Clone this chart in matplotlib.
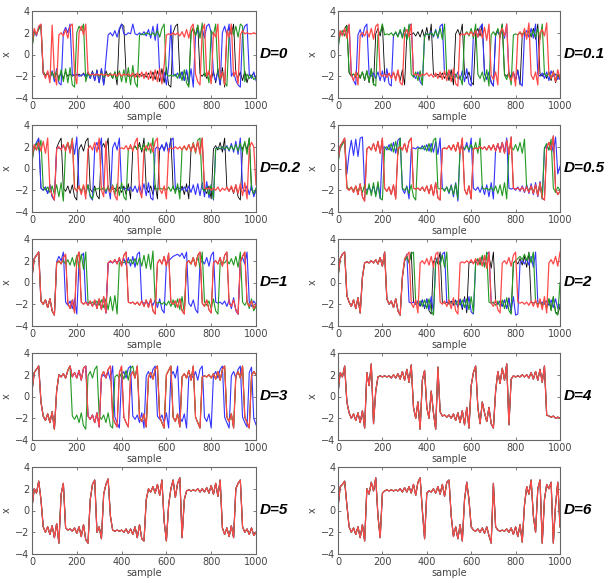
import numpy as np
import matplotlib
matplotlib.use('Agg')
import matplotlib.pyplot as plt

# x value of each series, read every 10 samples (0..1000)
sample = np.arange(0, 1001, 10)

# ---------------- D = 0 ----------------
d0_red = [1.0, 2.4, 1.8, 2.6, 2.8, -1.6, -2.2, -1.5, -2.6, 2.7,
          -1.8, -2.8, 1.8, 2.0, 1.7, 2.3, 1.5, 2.6, 2.8, -1.8,
          -2.7, 2.0, 2.6, 1.8, 2.8, -1.7, -1.9, -1.8, -1.9, -1.8,
          -1.9, -1.8, -1.9, -1.8, -2.0, -1.8, -1.9, -1.8, -2.0, -1.7,
          -2.0, -1.8, -1.9, -1.8, -2.0, -1.7, -2.1, -1.7, -2.1, -1.6,
          -2.2, -1.6, -2.3, -1.5, -2.4, -1.4, -2.5, -1.3, -2.7, -1.0,
          1.8, 1.9, 1.8, 2.0, 1.8, 2.0, 1.7, 2.1, 1.6, 2.3,
          1.5, 2.5, 2.8, -1.8, -2.5, -2.8, 2.2, 2.8, -2.0, -1.5,
          -2.7, 2.0, 1.6, 2.8, -2.2, -1.6, -2.8, 2.2, 1.6, 2.8,
          -2.0, -1.5, -2.7, 1.8, 2.2, 1.9, 2.0, 1.9, 1.9, 2.0,
          1.9]
d0_blue = [0.8, 2.2, 1.7, 2.5, 2.7, -1.7, -2.0, -1.6, -2.3, -1.5,
           -2.5, -1.3, -2.6, -2.8, 2.0, 2.5, 2.0, 2.8, -1.8, -2.0,
           -1.8, -2.0, -1.9, -1.8, -2.1, -1.7, -2.2, -1.6, -2.4, -1.5,
           -2.6, -1.3, -2.8, -0.5, 1.8, 2.0, 1.7, 2.2, 1.6, 2.4,
           2.8, 1.9, 1.8, 2.0, 1.9, 2.8, 1.9, 1.8, 2.0, 1.8,
           2.1, 1.7, 2.3, 1.5, 2.6, 1.3, 2.8, -1.8, -2.5, -1.6,
           -2.8, -1.0, 2.7, -1.8, -2.0, -1.7, -2.2, -1.6, -2.4, -1.4,
           -2.6, -1.3, -3.0, 1.8, 2.2, 1.7, 2.4, 1.5, 2.6, 2.8,
           2.0, -1.8, -2.4, -1.6, -2.8, 2.0, 2.6, 1.8, 2.8, -2.0,
           -1.6, -2.4, -2.8, -3.0, 2.0, 2.6, 2.8, -1.8, -2.2, -1.6,
           -2.4]
d0_green = [0.6, 2.0, 1.9, 2.3, 2.6, -1.5, -1.9, -1.7, -2.1, -1.6,
            -2.2, -1.5, -2.4, -1.4, -2.5, -1.3, -2.6, -1.2, -2.8, -3.0,
            2.0, 2.6, 2.2, 2.8, -2.5, -1.7, -2.0, -1.8, -1.9, -1.8,
            -2.0, -1.7, -2.1, -1.8, -1.9, -1.7, -2.2, -1.6, -2.3, -1.5,
            -2.5, -1.4, -2.6, -1.2, -2.8, -1.0, -2.6, -3.0, 1.8, 1.9,
            1.8, 2.0, 1.9, 1.8, 2.0, 1.7, 2.2, 1.6, 2.4, 2.8,
            -1.8, -2.0, -1.9, -2.0, -1.8, -2.2, -1.6, -2.4, -1.4, -2.6,
            -3.0, 2.0, 2.5, 1.7, 2.7, 1.5, 2.9, -2.0, -1.6, -2.6,
            2.2, 1.8, 2.8, -1.8, -2.3, -1.6, -2.6, -2.9, 2.0, 2.4,
            1.8, 2.6, 1.6, 2.8, 2.6, -2.5, -1.8, -2.2, -1.9, -2.3,
            -2.1]
d0_black = [0.7, 2.1, 1.9, 2.4, 2.7, -1.8, -1.9, -1.8, -2.0, -1.7,
            -2.0, -1.8, -2.1, -1.7, -2.2, -1.6, -2.0, -1.8, -2.0, -1.8,
            -1.9, -1.8, -2.0, -1.7, -2.1, -1.6, -2.2, -1.5, -2.4, -1.4,
            -2.6, -1.3, -2.8, -1.5, -2.0, -1.8, -2.2, -1.6, -2.8, 2.2,
            2.8, 2.6, -1.8, -2.0, -1.9, -2.0, -1.8, -2.1, -1.8, -2.0,
            -1.8, -2.1, -1.7, -2.2, -1.6, -2.3, -1.5, -2.5, -1.3, -2.6,
            -1.2, -2.8, -3.0, 2.0, 2.6, 2.8, -2.0, -1.6, -2.4, -1.5,
            -2.8, 2.0, 2.4, 1.8, 2.7, -1.8, -2.0, -1.7, -2.2, -1.6,
            -2.4, -1.5, -2.6, -1.3, -2.8, -1.2, -3.0, 2.0, 2.5, 1.8,
            2.8, -1.8, -2.2, -1.6, -2.4, -1.5, -2.6, -1.8, -2.0, -1.7,
            -2.2]

# ---------------- D = 0.1 ----------------
d01_red = [1.2, 2.2, 1.7, 2.4, 1.5, 2.8,
           -1.9, -2.4, -1.6, -2.8,
           1.8, 2.0, 1.7, 2.2, 1.6, 2.4, 1.4, 2.6, 2.8,
           -1.8, -2.0, -1.8, -2.1, -1.7, -2.2, -1.6, -2.4, -1.4, -2.6, -2.8,
           1.9, 2.3, 1.6, 2.8,
           -1.8, -1.9, -1.8, -2.0, -1.8, -1.9, -1.7, -2.0, -1.8, -2.1, -1.7,
           -2.2, -1.6, -2.3, -1.5, -2.4, -1.4, -2.5, -1.3, -2.7, -2.9,
           1.8, 1.9, 1.8, 2.0, 1.8, 2.1, 1.7, 2.2, 1.6, 2.3, 1.5, 2.5, 1.3, 2.8,
           -1.9, -2.3, -1.6, -2.8,
           2.0, 2.4, 1.7, 2.8,
           -2.0, -2.4, -1.6, -2.9,
           1.8, 2.1, 1.6, 2.4, 1.4, 2.9,
           -1.9, -2.3, -1.6, -2.8,
           2.0, 2.3, 1.7, 2.9,
           -1.8, -2.2, -1.6, -2.5, -1.4, -2.2]
d01_blue = [0.8, 2.0, 1.8, 2.3, 1.6, 2.7,
            -1.8, -2.4, -2.8,
            1.8, 2.3, 1.6, 2.5, 2.8,
            -1.8, -2.0, -1.7, -2.2, -1.6, -2.4, -1.5, -2.5, -1.3, -2.7, -2.9,
            1.8, 2.0, 1.7, 2.2, 1.6, 2.4, 1.4, 2.6, 2.8,
            -1.9, -2.2, -1.6, -2.5, -2.8,
            1.8, 1.9, 1.8, 2.1, 1.6, 2.3, 1.5, 2.6, 2.8,
            -1.8, -1.9, -1.8, -2.0, -1.7, -2.1, -1.6, -2.3, -1.5, -2.5, -1.3, -2.7, -2.9,
            1.9, 2.3, 1.6, 2.5, 2.8,
            -1.8, -2.3, -1.6, -2.6, -2.9,
            1.8, 2.1, 1.7, 2.4, 1.5, 2.8,
            -1.8, -2.0, -1.7, -2.3, -1.5, -2.6, -2.9,
            1.8, 2.2, 1.6, 2.4, 1.5, 2.8,
            -1.8, -2.0, -1.7, -2.2, -1.6, -2.4, -1.5, -2.0, -1.8, -2.3, -1.9]
d01_green = [0.5, 1.9, 2.2, 1.7, 2.6,
             -1.6, -1.9, -1.8, -2.0, -1.7, -2.1, -1.6, -2.3, -1.5, -2.5, -1.3, -2.7, -2.9,
             1.8, 2.0, 2.8, 1.8, 1.9, 1.8, 2.0, 1.7, 2.1, 1.6, 2.3, 1.5, 2.5, 1.3, 2.8,
             -1.8, -2.1, -1.6, -2.4, -1.5, -2.8,
             1.8, 1.9, 1.8, 2.0, 1.7, 2.2, 1.6, 2.4, 1.4, 2.8,
             -1.9, -2.0, -1.9, -2.1, -1.8, -2.2, -2.0, -2.8,
             1.8, 2.1, 1.7, 2.4, 1.5, 2.8,
             -1.8, -2.2, -1.6, -2.5, -1.4, -2.9,
             1.8, 2.1, 1.7, 2.4, 1.5, 2.8,
             -1.9, -2.3, -1.6, -2.8,
             1.8, 1.9, 1.8, 2.0, 1.9, 2.0, 1.8, 2.1, 1.7, 2.2, 1.6, 2.4, 1.4, 2.8,
             -1.8, -2.0, -1.7, -2.2, -1.6, -2.4, -1.8, -2.1]
d01_black = [0.9, 2.1, 1.8, 2.4, 2.7,
             -1.7, -2.0, -1.8, -2.1, -1.7, -2.2, -1.6, -2.4, -1.5, -2.6, -1.3, -2.8,
             1.9, 2.4, 1.7, 2.8,
             -1.8, -1.9, -1.8, -2.1, -1.7, -2.2, -1.6, -2.4, -1.4, -2.8,
             1.8, 1.9, 1.8, 2.0, 1.7, 2.1, 1.6, 2.3, 1.5, 2.5, 1.3, 2.8,
             -1.8, -2.0, -1.8, -2.1, -1.7, -2.2, -1.6, -2.4, -1.4, -2.8,
             1.9, 2.3, 1.7, 2.8,
             -1.8, -2.2, -1.6, -2.5, -2.8,
             1.9, 2.4, 1.7, 2.8,
             -1.8, -2.2, -1.7, -2.5, -2.9,
             1.9, 2.3, 1.6, 2.8,
             -1.8, -2.0, -1.7, -2.2, -1.6, -2.4, -1.4, -2.8,
             1.8, 2.0, 1.7, 2.2, 1.6, 2.4, 1.4, 2.8,
             -1.8, -2.0, -1.7, -2.2, -1.6, -2.4, -1.5, -2.6, -1.8, -2.3]

# ---------------- D = 0.2 ----------------
d02_red = [1.0, 2.2, 1.7, 2.4, 1.6, 2.5, 1.4, 2.8,
           -1.9, -2.4, -2.9,
           1.8, 2.0, 1.7, 2.2, 1.6, 2.4, 1.4, 2.7,
           -1.8, -2.1, -1.6, -2.4, -1.5, -2.8,
           1.8, 2.1, 1.7, 2.4, 1.5, 2.8,
           -2.0, -2.6,
           2.5,
           -1.9, -2.2, -1.6, -2.5, -2.9,
           1.8, 1.9, 1.8, 2.1, 1.7, 2.2, 1.6, 2.4, 2.8,
           -2.0, -2.7,
           1.8, 2.1, 1.7, 2.3, 1.5, 2.5, 2.8,
           -1.9, -2.3, -1.6, -2.8,
           1.8, 1.9, 1.8, 2.0, 1.8, 2.0, 1.7, 2.1, 1.7, 2.2, 1.6, 2.3, 1.5, 2.5, 1.3, 2.8,
           -1.8, -1.9, -1.8, -2.0, -1.8, -2.0, -1.7, -2.1, -1.8, -2.0,
           -1.7, -2.1, -1.6, -2.2, -1.5, -2.3, -1.4, -2.5, -1.3, -2.8,
           1.9, 2.4, 2.0,
           -1.5]
d02_blue = [0.8, 2.0, 2.4, 2.8,
            -1.8, -2.0, -1.7, -2.3, -1.5, -2.6, -2.9,
            1.8, 1.9, 1.8, 2.1, 1.7, 2.3, 1.5, 2.5, 1.3, 2.9,
            -1.8, -2.1, -1.7, -2.3, -1.5, -2.6, -2.9,
            1.9, 2.4, 1.7, 2.8,
            -1.9, -2.3, -1.6, -2.8,
            1.9, 2.4, 1.7, 2.8,
            -1.8, -1.9, -1.8, -2.0, -1.7, -2.1, -1.6, -2.2, -1.5, -2.3, -1.4, -2.5, -1.3, -2.7, -2.9,
            1.8, 2.0, 1.7, 2.2, 1.6, 2.4, 1.4, 2.6, 2.8,
            -1.8, -1.9, -1.8, -2.0, -1.7, -2.1, -1.6, -2.2, -1.5,
            -2.4, -1.4, -2.5, -1.3, -2.6, -1.2, -2.7, -1.5, -2.9,
            1.8, 1.9, 1.8, 2.0, 1.7, 2.1, 1.6, 2.3, 1.5, 2.5, 1.3, 2.8,
            -1.8, -2.1, -1.6, -2.4, -1.5, -2.6, -2.0]
d02_green = [0.6, 1.9, 2.3, 1.7, 2.6,
             -1.7, -2.0, -1.7, -2.2, -1.6, -2.4, -1.5, -2.6, -1.3, -3.0,
             1.9, 2.4, 1.7, 2.8,
             -1.8, -2.0, -1.7, -2.1, -1.6, -2.3, -1.5, -2.5, -2.8, -1.8, -1.9, -1.8,
             -2.0, -1.7, -2.1, -1.6, -2.2, -1.5, -2.4, -1.4, -2.5, -1.3, -2.6, -2.9,
             1.8, 1.9, 1.8, 2.0, 1.8, 2.1, 1.7, 2.2, 1.6, 2.4, 1.4, 2.8,
             -1.8, -1.9, -1.8, -1.9, -1.8, -2.0, -1.7, -2.1, -1.6, -2.3, -1.4, -2.8,
             1.8, 2.0, 1.7, 2.2, 1.6, 2.4, 1.4, 2.6, 2.8,
             -1.8, -2.1, -1.7, -2.4, -1.5, -2.8,
             1.8, 1.9, 1.8, 2.0, 1.8, 2.0, 1.7, 2.1, 1.7, 2.2, 1.6, 2.3, 1.5, 2.5, 1.3, 2.8,
             -1.9, -2.3, -1.8]
d02_black = [0.9, 2.1, 1.7, 2.7,
             -1.8, -2.0, -1.7, -2.3, -1.5, -2.6, -2.9,
             1.9, 2.4, 2.8,
             -1.8, -2.1, -1.6, -2.3, -1.5, -2.6, -2.9,
             1.8, 2.2, 1.6, 2.5, 2.8,
             -1.9, -2.2, -1.6, -2.5, -2.8,
             1.9, 2.3, 1.7, 2.8,
             -1.8, -1.9, -1.8, -2.1, -1.7, -2.2, -1.6, -2.4, -1.4, -2.8,
             1.8, 2.1, 1.7, 2.4, 1.5, 2.8,
             -1.8, -2.2, -1.6, -2.4, -1.5, -2.8,
             1.8, 2.1, 1.7, 2.4, 1.5, 2.8,
             -1.8, -2.0, -1.7, -2.2, -1.6, -2.4, -1.4, -2.8,
             1.8, 2.1, 1.7, 2.4, 1.5, 2.8,
             -1.9, -2.3, -1.6, -2.8,
             1.8, 2.1, 1.7, 2.4, 1.5, 2.8,
             -1.8, -2.1, -1.7, -2.3, -1.5, -2.6, -2.9,
             1.9, 2.3, 1.7, 2.8,
             -1.9, -2.4, -2.0]

# ---------------- D = 0.5 ----------------
d05_red = [0.7, 2.1, 2.4, 2.8,
           -1.8, -2.0, -1.7, -2.2, -1.6, -2.4, -1.4, -2.6, -3.0,
           1.8, 2.0, 1.7, 2.3, 1.6, 2.5, 1.4, 2.8,
           -1.8, -2.1, -1.7, -2.4, -1.5, -2.8,
           1.8, 2.0, 1.7, 2.3, 1.5, 2.5, 2.8,
           -1.8, -1.9, -1.8, -2.0, -1.7, -2.1, -1.6, -2.3, -1.5, -2.5, -1.3, -2.7, -2.9,
           1.8, 1.9, 1.8, 2.1, 1.7, 2.2, 1.6, 2.4, 1.4, 2.8,
           -1.9, -2.4, -1.6, -2.8,
           1.8, 1.9, 1.8, 2.0, 1.8, 2.0, 1.7, 2.1, 1.7, 2.2, 1.6, 2.3, 1.5, 2.4, 1.4, 2.6, 1.3, 2.9,
           -1.8, -1.9, -1.8, -2.0, -1.7, -2.1, -1.7, -2.2, -1.6, -2.3, -1.5, -2.5, -1.3, -2.7, -2.9,
           1.9, 2.4, 1.7, 3.0,
           -1.9, -2.4, -2.1]
d05_blue = [0.6, 2.0, 2.3, 2.7,
            -0.5,
            1.4, 2.6, 1.2, 2.7, 1.1, 2.8, 2.9,
            -1.8, -2.0, -1.7, -2.2, -1.6, -2.4, -1.5, -2.8,
            1.8, 2.0, 1.7, 2.2, 1.6, 2.4, 1.4, 2.6, 2.8,
            -1.9, -2.3, -1.6, -2.8,
            1.8, 1.9, 1.8, 2.0, 1.8, 2.1, 1.7, 2.2, 1.6, 2.3, 1.5, 2.5, 1.3, 2.8,
            -1.8, -2.0, -1.7, -2.3, -1.5, -2.6, -1.3, -3.0,
            1.8, 2.1, 1.7, 2.4, 1.5, 2.8,
            -1.8, -2.0, -1.7, -2.2, -1.6, -2.4, -1.5, -2.6, -1.3, -2.8,
            1.8, 2.1, 1.7, 2.4, 1.5, 2.8,
            -1.8, -1.9, -1.8, -2.0, -1.7, -2.1, -1.6, -2.2,
            -1.5, -2.3, -1.4, -2.4, -1.3, -2.6, -1.2, -2.8,
            1.8, 2.1, 1.7, 2.4, 1.5, 2.9,
            -0.5, 0.2]
d05_green = [0.5, 1.9, 2.2, 2.6,
             -1.7, -1.9, -1.8, -2.0, -1.7, -2.1, -1.6, -2.2, -1.5,
             -2.4, -1.4, -2.5, -1.3, -2.6, -1.2, -2.7, -2.9,
             1.8, 2.0, 1.7, 2.3, 1.5, 2.5, 1.3, 2.8,
             -1.8, -2.0, -1.7, -2.3, -1.5, -2.6, -2.9,
             1.8, 1.9, 1.8, 2.1, 1.6, 2.3, 1.5, 2.6, 2.8,
             -1.8, -1.9, -1.8, -2.1, -1.7, -2.2, -1.6, -2.4, -1.4, -2.8,
             1.8, 1.9, 1.8, 2.1, 1.7, 2.2, 1.6, 2.4, 1.4, 2.8,
             -1.8, -1.9, -1.8, -2.0, -1.7, -2.1, -1.6, -2.3, -1.5, -2.5, -1.3, -2.8,
             1.8, 2.0, 1.7, 2.2, 1.6, 2.4, 1.4, 2.7,
             -1.8, -2.0, -1.7, -2.2, -1.6, -2.4, -1.4, -2.8,
             1.9, 2.3, 1.7, 2.7,
             -1.8, -2.2, -1.7, -2.0]
d05_black = list(d05_red)   # black runs under red

# ---------------- D = 1 ----------------
d1_start = [0.5, 2.2, 2.5, 2.8,
            -1.7, -2.0, -1.6, -2.3, -1.5, -2.6, -3.0]
d1_red = d1_start + [
    1.8, 2.0, 1.7, 2.3, 2.6,
    -1.9, -2.4, -1.6, -2.8,
    2.2, 2.8,
    -1.8, -2.0, -1.8, -2.1, -1.7, -2.2, -1.6, -2.4, -1.5, -2.5, -1.3, -2.8,
    1.8, 2.0, 1.8, 2.1, 1.7, 2.3, 1.5, 2.5, 2.8,
    -1.8, -1.9, -1.8, -2.0, -1.8, -2.1, -1.7, -2.2, -1.6, -2.3, -1.5, -2.6, -2.9,
    1.8, 2.1, 1.7, 2.4, 1.5, 2.7,
    -1.8, -2.0, -1.7, -2.3, -1.5, -2.6, -2.9,
    1.8, 2.0, 1.7, 2.3, 1.5, 2.5, 2.8,
    -1.9, -2.2, -1.6, -2.5, -2.8,
    1.8, 2.0, 1.7, 2.3, 1.5, 2.5, 2.8,
    -1.9, -2.2, -1.6, -2.5, -2.9,
    1.9, 2.4, 2.8,
    -1.8, -2.2, -1.7, -2.4, -2.0]
d1_blue = d1_start + [
    1.9, 2.4, 2.0, 2.8,
    -1.8, -2.1, -1.7, -2.4, -1.5, -2.9,
    1.9, 2.4, 2.7,
    -1.8, -1.9, -1.8, -2.1, -1.7, -2.2, -1.6, -2.4, -1.4, -2.8,
    1.8, 1.9, 1.8, 2.0, 1.8, 2.1, 1.7, 2.2, 1.6, 2.3, 1.5, 2.4, 1.4, 2.6, 2.8,
    -1.8, -1.9, -1.8, -2.0, -1.7, -2.1, -1.6, -2.3, -1.5, -2.5, -2.8,
    1.8, 2.0, 2.2, 2.4, 2.5, 2.6, 2.4, 2.7, 2.2, 2.8,
    -1.9, -2.2, -1.6, -2.5, -2.8,
    1.8, 2.0, 1.7, 2.3, 1.5, 2.5, 2.8,
    -1.8, -1.9, -1.8, -2.0, -1.7, -2.2, -1.6, -2.4, -1.4, -2.6, -2.9,
    1.9, 2.3, 1.7, 2.8,
    -1.8, -2.2, -1.7, -2.0]
d1_green = d1_start + [
    1.8, 1.9, 1.8, 2.0, 1.7, 2.1, 1.6, 2.3, 1.5, 2.5, 1.3, 2.6, 1.2, 2.8,
    -1.8, -1.9, -1.8, -2.0, -1.7, -2.1, -1.6, -2.3, -1.5, -2.5, -1.3, -2.6, -1.2, -2.9,
    1.8, 1.9, 1.8, 2.0, 1.8, 2.1, 1.7, 2.2, 1.6, 2.3, 1.5, 2.5, 1.3, 2.6, 1.2, 2.9,
    -1.8, -1.9, -1.8, -2.0, -1.8, -2.1, -1.7, -2.2, -1.6, -2.3, -1.5, -2.5, -1.3, -2.8,
    1.8, 2.0, 1.7, 2.3, 1.5, 2.5, 1.3, 2.8,
    -1.8, -2.1, -1.7, -2.4, -1.5, -2.6, -2.9,
    1.8, 1.9, 1.8, 2.1, 1.7, 2.2, 1.6, 2.4, 1.4, 2.8,
    -1.8, -2.1, -1.7, -2.4, -1.5, -2.6, -2.2]
d1_black = list(d1_red)

# ---------------- D = 2 ----------------
d2_start = [0.5, 2.2, 2.6, 2.8, -1.2, -1.8, -2.2, -1.6, -2.4, -1.4,
            -2.8, 0.5, 1.8, 1.9, 1.8, 2.0, 1.8, 2.1, 1.7, 2.3,
            1.5, 2.8, -1.5, -2.0, -1.7, -2.3, -1.5, -2.6, -3.0, 0.5]
d2_red = d2_start + [
    2.2, 2.5, 2.8,
    -1.9, -2.3, -1.6, -2.8,
    1.8, 2.0, 1.7, 2.2, 1.6, 2.4, 1.4, 2.6, 2.8,
    -1.8, -2.0, -1.7, -2.2, -1.6, -2.4, -1.4, -2.6, -2.9,
    1.8, 1.9, 1.8, 2.0, 1.8, 2.1, 1.7, 2.2, 1.6, 2.3, 1.5, 2.5, 1.3, 2.8,
    -1.9, -2.2, -1.6, -2.5, -2.8,
    1.8, 2.0, 1.7, 2.3, 1.5, 2.5, 2.8,
    -1.8, -1.9, -1.8, -2.0, -1.8, -2.1, -1.7, -2.2, -1.6, -2.3, -1.5, -2.5, -1.3, -2.8,
    1.8, 2.1, 1.7, 2.4, 1.5, 2.8]
d2_green = d2_start + [
    2.0, 2.4, 1.8, 2.6, 2.8,
    -1.8, -2.0, -1.7, -2.2, -1.6, -2.4, -1.5, -2.6, -3.0,
    1.8, 2.2, 1.6, 2.5, 1.4, 2.8,
    -1.8, -1.9, -1.8, -2.0, -1.7, -2.1, -1.6, -2.3, -1.5, -2.5, -1.3, -2.8,
    1.8, 2.2, 1.6, 2.5, 1.4, 2.8,
    -1.8, -1.9, -1.8, -2.1, -1.7, -2.2, -1.6, -2.4, -1.4, -2.6, -2.9,
    1.8, 2.0, 2.2, 2.4, 2.1, 2.6, 2.0, 2.7, 1.8, 2.8,
    -1.8, -2.0, -1.7, -2.2, -1.6, -2.4, -1.5, -2.6, -1.3, -2.8, -3.0,
    0.0]
d2_blue = d2_start + [
    2.0, 2.6,
    -1.8, -1.9, -1.8, -2.0, -1.7, -2.1, -1.6, -2.3, -1.5, -2.5, -1.3, -2.8,
    1.9, 2.3, 1.7, 2.6, 2.8,
    -1.8, -1.9, -1.8, -2.0, -1.7, -2.2, -1.6, -2.3, -1.5, -2.5, -1.3, -2.7, -2.9,
    1.8, 2.1, 1.7, 2.4, 1.5, 2.6, 2.8,
    -1.8, -1.9, -1.8, -2.0, -1.7, -2.2, -1.6, -2.4, -1.5, -2.6, -1.3, -3.0, -2.9,
    1.8, 2.0, 1.7, 2.2, 1.6, 2.4, 1.4, 2.8,
    -1.8, -1.9, -1.8, -2.0, -1.7, -2.1, -1.6, -2.3, -1.5, -2.4, -2.0]
d2_black = d2_start + [
    2.0, 2.4, 1.8, 2.8,
    -1.8, -2.0, -1.7, -2.2, -1.6, -2.4, -1.5, -2.6, -2.9,
    1.9, 2.3, 1.7, 2.8,
    -1.8, -1.9, -1.8, -2.0, -1.7, -2.1, -1.6, -2.3, -1.5, -2.5, -1.3, -2.8,
    1.8, 1.9, 1.8, 2.0, 1.7, 2.1, 1.6, 2.3, 1.5, 2.5, 1.3, 2.8,
    -1.8, -2.0, -1.7, -2.2, -1.6, -2.4, -1.4, -2.8,
    1.8, 2.0, 1.7, 2.2, 1.6, 2.4, 1.4, 2.8,
    -1.8, -1.9, -1.8, -2.0, -1.7, -2.1, -1.6, -2.3, -1.5, -2.5, -1.3, -2.7, -2.9, -2.2]

# ---------------- D = 3 ----------------
d3_start = [0.5, 2.2, 2.5, 2.8, -0.5, -1.8, -2.2, -1.6, -2.4, -1.4,
            -3.0, 0.5, 2.0, 1.8, 2.1, 1.7, 2.4, 2.8]
d3_mid = [1.8, 2.2, 1.7, 2.4, 1.5, 2.6, 2.8,
          -1.8, -2.1, -1.7, -2.4, -1.5, -2.8]          # samples 180-300, red and blue together
d3_red = d3_start + d3_mid + [
    1.9, 2.3, 1.7, 2.5, 2.8,
    -1.9, -2.4, -2.8,
    2.2, 2.8,
    -1.9, -2.4, -2.8,
    1.9, 2.3, 1.7, 2.8,
    -1.9, -2.3, -1.6, -2.8,
    1.8, 2.2, 1.6, 2.5, 2.8,
    -1.9, -2.4, -2.9,
    2.0, 2.4, 2.8,
    -1.9, -2.3, -1.6, -2.8,
    1.8, 2.1, 1.7, 2.4, 1.5, 2.8,
    -1.9, -2.4, -2.9,
    1.8, 1.9, 1.8, 2.0, 1.7, 2.1, 1.6, 2.3, 1.5, 2.5, 2.8,
    -1.9, -2.3, -1.6, -2.9,
    1.9, 2.3, 1.7, 2.8,
    -1.9, -2.4, -2.9,
    1.9, 2.3, 2.0]
d3_blue = d3_start + d3_mid + [
    1.8, 2.0, 1.7, 2.3, 1.5, 2.8,
    -1.9, -2.4, -2.9,
    1.9, 2.3, 1.7, 2.6, 2.8,
    -1.8, -2.1, -1.7, -2.4, -1.5, -2.9,
    1.9, 2.3, 1.7, 2.5, 2.8,
    -1.8, -2.1, -1.7, -2.4, -1.5, -2.9,
    1.9, 2.3, 1.7, 2.8,
    -1.9, -2.3, -1.6, -2.9,
    1.8, 2.0, 1.7, 2.3, 1.5, 2.5, 2.8,
    -1.9, -2.3, -1.6, -2.9,
    1.9, 2.3, 1.7, 2.5, 2.8,
    -1.9, -2.4, -2.9,
    1.9, 2.3, 1.7, 2.5, 2.8,
    -1.9, -2.4, -2.8,
    2.2, 2.7,
    -2.0, -2.6]
# green leaves at ~180 and rejoins red after ~450
d3_green = d3_start + [
    -1.8, -2.1, -1.7, -2.4, -1.5, -2.7, -3.0,
    1.9, 2.3, 1.7, 2.5, 2.8,
    -1.8, -2.1, -1.7, -2.4, -1.5, -2.7, -2.9,
    1.8, 2.0, 1.7, 2.2, 1.6, 2.4, 1.5, 2.6, 2.8] + d3_red[46:]
d3_black = list(d3_red)

# ---------------- D = 4, 5, 6 (all four series coincide) ----------------
d4_red = [0.3, 2.2, 1.8, 2.8, -0.5, -1.5, -2.0, -1.6, -2.2, -1.5,
          -2.4, -1.3, -2.9, 2.2, 1.0, 3.0, -2.5, 0.5, 1.8, 1.9,
          1.8, 1.9, 1.8, 1.9, 1.7, 2.0, 1.7, 2.1, 1.6, 2.3,
          1.5, 2.5, 1.3, 2.9, -1.0, -2.0, -0.5, -3.0, 1.5, 2.4,
          -1.0, -2.0, 0.5, -1.5, -3.0, 2.7, -1.4, -1.8, -1.7, -1.9,
          -1.7, -2.0, -1.6, -2.2, -1.5, -2.4, -1.3, -2.6, -1.0, -2.9,
          1.0, 2.2, 2.8, -1.0, -2.5, -0.5, -1.5, -2.3, -1.0, -2.5,
          -2.9, 0.5, 2.3, 1.2, 2.6, 1.5, 3.0, -2.6, 1.6, 1.9,
          1.8, 1.9, 1.8, 2.0, 1.8, 2.0, 1.7, 2.2, 1.6, 2.3,
          1.5, 2.5, 1.3, 2.8, -1.7, -1.8, -1.9, -1.8, -2.0, -1.9,
          -2.0]
d5_red = [0.3, 2.0, 1.6, 2.7, 1.0, -1.5, -2.0, -1.5, -2.2, -1.4,
          -2.5, -1.2, -3.0, 1.5, 2.5, -1.6, -1.8, -1.7, -1.9, -1.6,
          -2.1, -1.5, -2.4, -1.3, -2.7, -3.0, 1.0, 2.4, 2.8, -2.0,
          -1.5, -2.6, 1.5, 2.4, 2.9, -0.5, -1.8, -1.9, -1.8, -1.9,
          -1.8, -2.0, -1.7, -2.1, -1.7, -2.2, -1.5, -2.5, -1.3, -2.6,
          -2.8, 1.0, 2.0, 1.7, 2.2, 1.6, 2.4, 1.4, 2.8, -1.0,
          -2.8, 0.5, 2.0, 2.8, 1.2, 2.5, 3.0, -2.5, 1.0, 1.8,
          1.9, 1.8, 1.9, 1.8, 2.0, 1.7, 2.0, 1.7, 2.1, 1.6,
          2.3, 1.5, 2.5, 1.3, 2.8, -1.6, -2.2, -1.6, -2.4, -1.4,
          -2.5, 2.0, 2.5, 2.8, -1.5, -2.0, -1.7, -2.2, -1.6, -2.3,
          -2.0]
d6_red = [0.3, 2.2, 2.4, 2.7, 0.5, -1.5, -2.0, -1.6, -2.2, -1.5,
          -2.5, -1.3, -2.8, 2.0, 1.5, 2.6, 1.8, 3.0, -0.5, -2.5,
          1.6, 1.8, 1.9, 1.8, 1.9, 1.8, 1.9, 1.8, 2.0, 1.7,
          2.1, 1.7, 2.2, 1.6, 2.4, 1.4, 2.6, 3.0, 0.0, -2.6,
          1.6, 1.8, 1.7, 2.0, 1.6, 2.2, 1.5, 2.4, 1.3, 2.6,
          2.8, -0.5, -2.4, -1.5, -2.6, -1.3, -2.8, 1.0, 2.6, 1.0,
          -1.5, -1.8, -1.9, -1.7, -2.0, -1.6, -2.1, -1.5, -2.3, -3.0,
          2.5, -1.5, -1.8, -1.9, -1.8, -1.9, -1.7, -2.0, -1.6, -2.2,
          -1.5, -2.4, -1.3, -2.9, 0.5, 2.2, 1.5, 2.8, -0.5, -2.0,
          2.0, 2.8, -3.0, 1.0, 2.4, 2.0, 2.6, -3.0, 0.5, 2.6,
          -1.5]

# panel order: row by row, left then right
labels = ['D=0', 'D=0.1', 'D=0.2', 'D=0.5', 'D=1', 'D=2', 'D=3', 'D=4', 'D=5', 'D=6']
series = [
    (d0_black, d0_blue, d0_green, d0_red),
    (d01_black, d01_blue, d01_green, d01_red),
    (d02_black, d02_blue, d02_green, d02_red),
    (d05_black, d05_blue, d05_green, d05_red),
    (d1_black, d1_blue, d1_green, d1_red),
    (d2_black, d2_blue, d2_green, d2_red),
    (d3_black, d3_blue, d3_green, d3_red),
    (d4_red, d4_red, d4_red, d4_red),
    (d5_red, d5_red, d5_red, d5_red),
    (d6_red, d6_red, d6_red, d6_red),
]
colors = ['#000000', '#3333ff', '#229922', '#ff4848']
widths = [0.6, 0.8, 0.8, 0.9]

for lab, s in zip(labels, series):
    for v in s:
        assert len(v) == 101, (lab, len(v))

W, H = 613, 583
fig = plt.figure(figsize=(W / 100, H / 100), dpi=100)

col_x = [32, 338]
col_w = [224, 222]
row_top = [11, 125, 239, 353, 467]
ax_h = 87

for i, (lab, s) in enumerate(zip(labels, series)):
    r, c = divmod(i, 2)
    ax = fig.add_axes([col_x[c] / W, 1 - (row_top[r] + ax_h) / H,
                       col_w[c] / W, ax_h / H])
    for v, col, lw in zip(s, colors, widths):
        ax.plot(sample, v, color=col, lw=lw)
    ax.set_xlim(0, 1000)
    ax.set_ylim(-4, 4)
    ax.set_xticks([0, 200, 400, 600, 800, 1000])
    ax.set_yticks([-4, -2, 0, 2, 4])
    ax.tick_params(direction='in', length=2.5, width=0.6, labelsize=7,
                   labelcolor='#444444', colors='#666666', top=True, right=True, pad=2)
    for sp in ax.spines.values():
        sp.set_color('#666666')
        sp.set_linewidth(0.8)
    ax.set_xlabel('sample', fontsize=7, color='#444444', labelpad=1)
    ax.set_ylabel('x', fontsize=7, color='#444444', labelpad=2)
    ax.text(1.015, 0.5, lab, transform=ax.transAxes, ha='left', va='center',
            fontsize=11, fontweight='bold', fontstyle='italic',
            family='Liberation Sans')

fig.savefig('out.png', dpi=100)
